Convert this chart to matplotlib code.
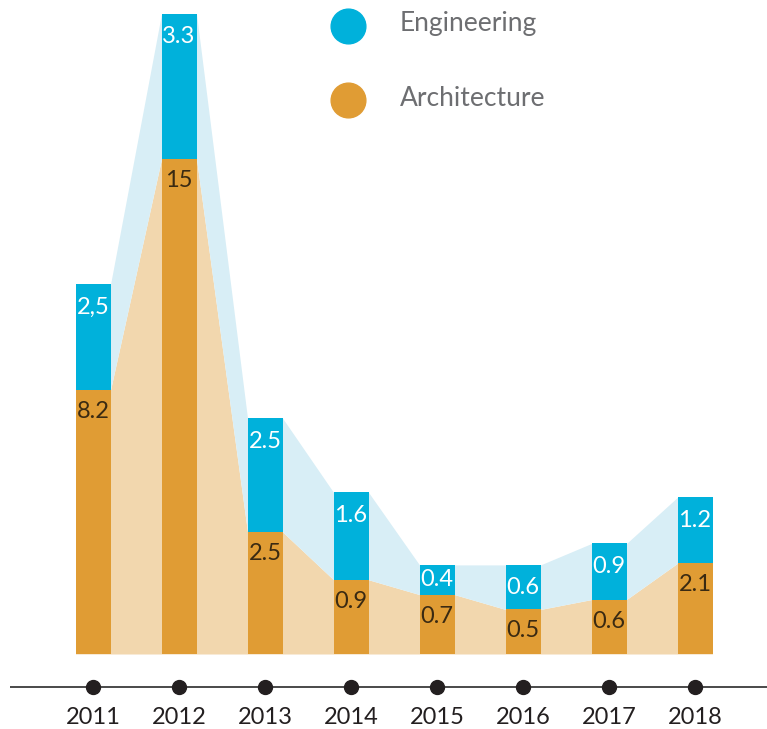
import numpy as np
import matplotlib
matplotlib.use("Agg")
import matplotlib.pyplot as plt

# ---- data ----
years = ["2011", "2012", "2013", "2014", "2015", "2016", "2017", "2018"]
# drawn bar heights (visual units)
arch_height = [8.0, 15.0, 3.7, 2.25, 1.8, 1.35, 1.65, 2.75]
eng_height = [3.2, 4.4, 3.45, 2.65, 0.9, 1.35, 1.7, 2.0]
# printed labels
arch_labels = ["8.2", "15", "2.5", "0.9", "0.7", "0.5", "0.6", "2.1"]
eng_labels = ["2,5", "3.3", "2.5", "1.6", "0.4", "0.6", "0.9", "1.2"]
series_names = ["Engineering", "Architecture"]

# ---- style ----
BLUE = "#00B1DB"
ORANGE = "#E09C34"
LBLUE = "#D8EEF6"
LORANGE = "#F2D7AE"
FONT = ["Lato", "DejaVu Sans"]

W, H = 767, 729
fig = plt.figure(figsize=(W / 100, H / 100), dpi=100)
ax = fig.add_axes([0, 0, 1, 1])
ax.axis("off")

step_px, x0_px, base_px, ypx = 86, 93, 654, 33.0
ax.set_xlim(-x0_px / step_px, (W - x0_px) / step_px)
ax.set_ylim(-(H - base_px) / ypx, base_px / ypx)

x = np.arange(len(years))
arch = np.array(arch_height)
eng = np.array(eng_height)
total = arch + eng
bw = 35 / step_px

# connecting areas
xs = np.ravel(np.column_stack([x - bw / 2, x + bw / 2]))
arch_rep = np.repeat(arch, 2)
tot_rep = np.repeat(total, 2)
ax.fill_between(xs, 0, arch_rep, color=LORANGE, lw=0, zorder=1)
ax.fill_between(xs, arch_rep, tot_rep, color=LBLUE, lw=0, zorder=1)

# bars
ax.bar(x, arch, width=bw, color=ORANGE, zorder=2, lw=0)
ax.bar(x, eng, bottom=arch, width=bw, color=BLUE, zorder=2, lw=0)

# value labels
for i in range(len(x)):
    off_e = min(0.7, eng[i] / 2)
    ax.text(x[i], total[i] - off_e, eng_labels[i], ha="center", va="center",
            color="white", fontsize=17, family=FONT, zorder=3)
    ax.text(x[i], arch[i] - 0.65, arch_labels[i], ha="center", va="center",
            color="#3a2a12", fontsize=17, family=FONT, zorder=3)

# axis line with dots and year labels
axis_y = (base_px - 687) / ypx
ax.plot([(10 - x0_px) / step_px, (W - x0_px) / step_px], [axis_y, axis_y],
        color="#2b2b2b", lw=1.2, zorder=2, solid_capstyle="butt")
ax.plot(x, [axis_y] * len(x), "o", color="#231f20", markersize=10, zorder=3)
for i, yr in enumerate(years):
    ax.text(x[i], (base_px - 717) / ypx, yr, ha="center", va="center",
            color="#231f20", fontsize=17, family=FONT)

# legend
for name, col, ypix in [(series_names[0], BLUE, 26), (series_names[1], ORANGE, 100)]:
    ax.plot([348 / W], [1 - ypix / H], "o", color=col, markersize=25,
            transform=ax.transAxes, zorder=3)
    ax.text(400 / W, 1 - (ypix - 2) / H, name, ha="left", va="center",
            color="#6d6e71", fontsize=19, family=FONT,
            transform=ax.transAxes)

fig.savefig("out.png", dpi=100)
